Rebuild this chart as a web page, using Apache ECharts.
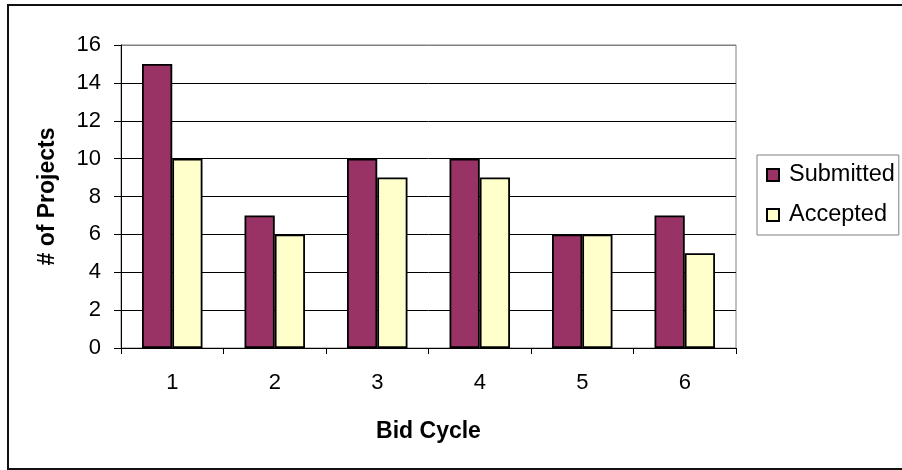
<!DOCTYPE html>
<html>
<head>
<meta charset="utf-8">
<script src="https://cdn.jsdelivr.net/npm/echarts@6/dist/echarts.min.js"></script>
<style>
  html, body { margin: 0; padding: 0; background: #fff; }
  #chart { width: 902px; height: 470px; }
</style>
</head>
<body>
<div id="chart"></div>
<script>
// Bid cycles and project counts
const cycles = ['1', '2', '3', '4', '5', '6'];
const submitted = [15, 7, 10, 10, 6, 7];
const accepted = [10, 6, 9, 9, 6, 5];

const font = '"Liberation Sans", Arial, sans-serif';
const chart = echarts.init(document.getElementById('chart'));

chart.setOption({
  animation: false,
  backgroundColor: '#ffffff',
  textStyle: { fontFamily: font, color: '#000' },
  graphic: [{
    type: 'rect',
    shape: { x: 8, y: 5, width: 910, height: 464 },
    style: { fill: 'none', stroke: '#111', lineWidth: 2 },
    silent: true
  }],
  grid: {
    left: 121, right: 166, top: 45, bottom: 122,
    show: true, borderColor: '#808080', borderWidth: 1, backgroundColor: 'transparent'
  },
  legend: {
    orient: 'vertical',
    left: 757, top: 155,
    padding: [8, 4, 8, 9],
    itemGap: 16,
    itemWidth: 12, itemHeight: 12,
    icon: 'rect',
    backgroundColor: '#fff',
    borderColor: '#808080', borderWidth: 1,
    textStyle: { fontFamily: font, fontSize: 23.5, color: '#000', padding: [0, 0, 0, 5], lineHeight: 24 },
    data: ['Submitted', 'Accepted']
  },
  xAxis: {
    type: 'category',
    data: cycles,
    name: 'Bid Cycle',
    nameLocation: 'middle',
    nameGap: 72,
    nameTextStyle: { fontFamily: font, fontSize: 23, fontWeight: 'bold', color: '#000' },
    axisLine: { lineStyle: { color: '#000', width: 1 } },
    axisTick: { show: true, alignWithLabel: false, length: 6, inside: false, lineStyle: { color: '#000' } },
    axisLabel: { fontFamily: font, fontSize: 22, color: '#000', margin: 24 }
  },
  yAxis: {
    type: 'value',
    min: 0, max: 16, interval: 2,
    name: '# of Projects',
    nameLocation: 'middle',
    nameGap: 62,
    nameTextStyle: { fontFamily: font, fontSize: 23, fontWeight: 'bold', color: '#000' },
    axisLine: { show: true, lineStyle: { color: '#000', width: 1 } },
    axisTick: { show: true, length: 7, lineStyle: { color: '#000' } },
    axisLabel: { fontFamily: font, fontSize: 22, color: '#000', margin: 20 },
    splitLine: {
      show: true,
      lineStyle: { color: ['#000', '#000', '#000', '#000', '#000', '#000', '#000', '#000', '#808080'], width: 1 }
    }
  },
  series: [
    {
      name: 'Submitted', type: 'bar', data: submitted,
      barGap: '0%', barCategoryGap: '41%',
      itemStyle: { color: '#993366', borderColor: '#000', borderWidth: 1.8 }
    },
    {
      name: 'Accepted', type: 'bar', data: accepted,
      barGap: '0%', barCategoryGap: '41%',
      itemStyle: { color: '#FFFFCC', borderColor: '#000', borderWidth: 1.8 }
    }
  ]
});
</script>
</body>
</html>
